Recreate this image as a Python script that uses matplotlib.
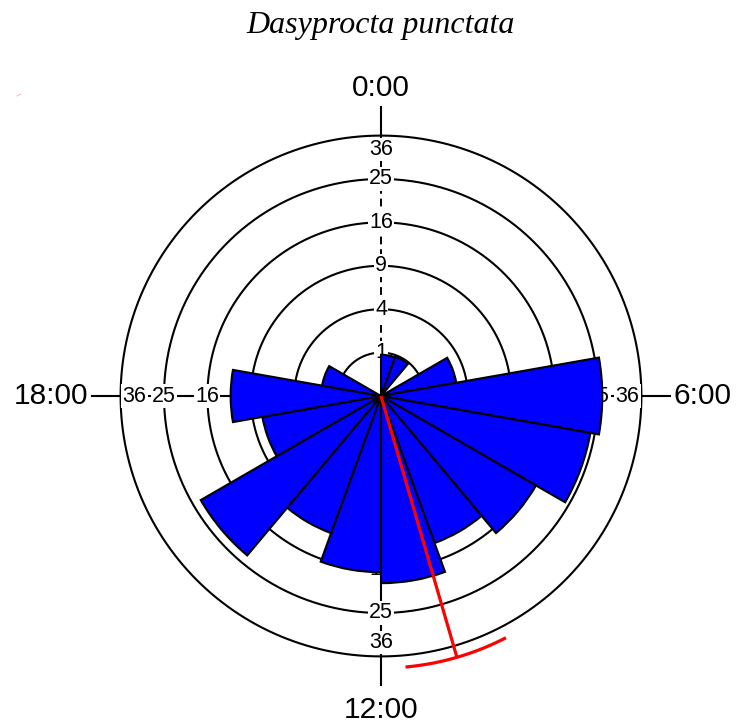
import numpy as np
import matplotlib
matplotlib.use("Agg")
import matplotlib.pyplot as plt
from matplotlib.lines import Line2D

# ---------------- data ----------------
title = "Dasyprocta punctata"
bin_width_deg = 20
bin_starts_deg = np.arange(0, 360, bin_width_deg)          # 18 bins, clockwise from 0:00
counts = [0.9, 0.93, 0, 3.1, 26, 24, 17, 13, 18.6, 16.5, 11.3, 23, 7.7, 12, 1.9, 0, 0, 0]
ring_values = [1, 4, 9, 16, 25, 36]
ring_labels = ["1", "4", "9", "16", "25", "36"]
hour_labels = ["0:00", "6:00", "12:00", "18:00"]
hour_angles_deg = [0, 90, 180, 270]
mean_dir_deg = 163.8
ci_deg = [153.0, 174.5]
mean_len = 6.28        # in sqrt-count units

# ---------------- figure ----------------
W, H = 738, 725
fig = plt.figure(figsize=(W / 100, H / 100), dpi=100)
cx, cy = 381, 396            # centre in pixels (from top)
scale = 43.4                 # pixels per sqrt-count unit
rmax = 7.2
rad_px = rmax * scale
ax = fig.add_axes([(cx - rad_px) / W, ((H - cy) - rad_px) / H,
                   2 * rad_px / W, 2 * rad_px / H], projection="polar")
ax.set_theta_zero_location("N")
ax.set_theta_direction(-1)
ax.set_ylim(0, rmax)
ax.grid(False)
ax.set_xticks([])
ax.set_yticks([])
ax.spines["polar"].set_visible(False)
ax.patch.set_alpha(0)

# rings
th = np.linspace(0, 2 * np.pi, 721)
for v in ring_values:
    ax.plot(th, np.full_like(th, np.sqrt(v)), color="black", lw=1.5, zorder=1)

# axis lines
r_axis_end = 6.66
for a in hour_angles_deg:
    t = np.deg2rad(a)
    if a == 0:
        ax.plot([t, t], [0, 5.85], color="black", lw=1.4, dashes=(4, 2.5), zorder=1.5)
        ax.plot([t, t], [5.85, r_axis_end], color="black", lw=1.5, zorder=1.5)
    else:
        ax.plot([t, t], [0, r_axis_end], color="black", lw=1.5, zorder=1.5)

# ring labels on the four axes
for a in hour_angles_deg:
    t = np.deg2rad(a)
    for v, lab in zip(ring_values, ring_labels):
        r = np.sqrt(v) if v != 36 else 5.68
        ax.text(t, r, lab, ha="center", va="center", fontsize=15.5,
                family=["Liberation Sans", "DejaVu Sans"], zorder=2,
                bbox=dict(fc="white", ec="none", pad=0.8), clip_on=False)

# rose bars
theta_c = np.deg2rad(bin_starts_deg + bin_width_deg / 2)
heights = np.sqrt(np.array(counts, dtype=float))
mask = heights > 0
ax.bar(theta_c[mask], heights[mask], width=np.deg2rad(bin_width_deg), bottom=0,
       color="#0000FF", edgecolor="black", linewidth=1.5, align="center", zorder=3)

# mean direction and CI arc
tm = np.deg2rad(mean_dir_deg)
ax.plot([tm, tm], [0, mean_len], color="red", lw=2.3, zorder=4, solid_capstyle="butt")
tci = np.deg2rad(np.linspace(ci_deg[0], ci_deg[1], 60))
ax.plot(tci, np.full_like(tci, 6.27), color="red", lw=2.3, zorder=4)

# hour labels
lab_kw = dict(fontsize=21.5, family=["Liberation Sans", "DejaVu Sans"], clip_on=False)
ax.text(np.deg2rad(0), 7.1, hour_labels[0], ha="center", va="center", **lab_kw)
ax.text(np.deg2rad(90), 6.73, hour_labels[1], ha="left", va="center", **lab_kw)
ax.text(np.deg2rad(180), 7.23, hour_labels[2], ha="center", va="center", **lab_kw)
ax.text(np.deg2rad(270), 6.75, hour_labels[3], ha="right", va="center", **lab_kw)

# title
fig.text(cx / W, 1 - 25 / H, title, ha="center", va="center", fontsize=23,
         family="Liberation Serif", style="italic")

# tiny stray red mark at the top left of the reference
fig.add_artist(Line2D([17 / W, 21 / W], [1 - 96 / H, 1 - 94 / H], color="red",
                      lw=0.6, alpha=0.35))

fig.savefig("out.png", dpi=100)
